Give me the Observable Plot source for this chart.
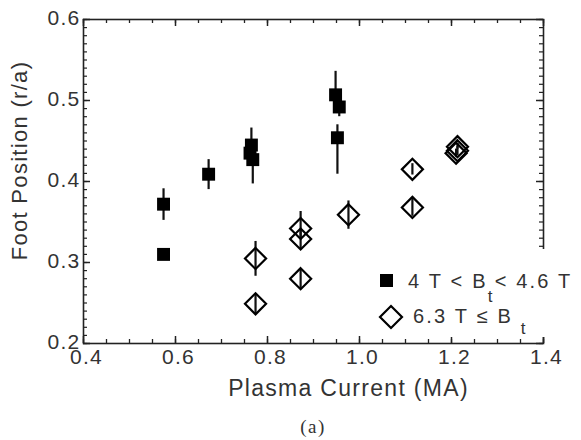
<!DOCTYPE html>
<html>
<head>
<meta charset="utf-8">
<script src="https://cdn.jsdelivr.net/npm/d3@7"></script>
<script src="https://cdn.jsdelivr.net/npm/@observablehq/plot@0.6"></script>
<style>
  body { margin: 0; background: #fff; }
  #wrap { position: relative; width: 581px; height: 440px; font-family: "Liberation Sans", Arial, sans-serif; }
  #legend { position: absolute; left: 372px; top: 249px; }
  #caption { position: absolute; left: 263px; width: 100px; top: 416px; text-align: center;
    font-family: "Liberation Serif", "Times New Roman", serif; font-size: 19px; letter-spacing: 1.5px; color: #333; }
</style>
</head>
<body>
<div id="wrap">
  <div id="chart"></div>
  <svg id="legend" width="209" height="88" style="font-family: 'Liberation Sans', Arial, sans-serif;">
    <rect x="0" y="0" width="209" height="88" fill="#fff"></rect>
    <rect x="8" y="25" width="13" height="13" fill="#000"></rect>
    <text x="36" y="39" font-size="20" fill="#333" style="letter-spacing:2.2px">4 T &lt; B<tspan font-size="17" dy="14">t</tspan><tspan dy="-14">&lt; 4.6 T</tspan></text>
    <path d="M19,57 L30,68 L19,79 L8,68 Z" fill="none" stroke="#000" stroke-width="2.2"></path>
    <text x="41" y="74" font-size="20" fill="#333" style="letter-spacing:2.2px">6.3 T ≤ B <tspan font-size="17" dy="11">t</tspan></text>
  </svg>
  <div id="caption">(a)</div>
</div>
<script>
// Plasma current (MA) and foot position (r/a), with error bar bounds
const sqCurrent = [0.574, 0.574, 0.672, 0.765, 0.762, 0.768, 0.948, 0.956, 0.952];
const sqFoot    = [0.372, 0.310, 0.409, 0.445, 0.435, 0.427, 0.507, 0.492, 0.454];
const sqLo      = [0.352, 0.305, 0.390, 0.425, 0.425, 0.397, 0.490, 0.480, 0.409];
const sqHi      = [0.391, 0.316, 0.427, 0.466, 0.445, 0.440, 0.536, 0.500, 0.470];

const dmCurrent = [0.774, 0.774, 0.872, 0.872, 0.872, 0.976, 1.115, 1.115, 1.213, 1.213, 1.210];
const dmFoot    = [0.305, 0.249, 0.342, 0.329, 0.280, 0.359, 0.415, 0.368, 0.443, 0.438, 0.435];
const dmLo      = [0.283, 0.236, 0.330, 0.317, 0.268, 0.341, 0.408, 0.357, 0.440, 0.432, 0.430];
const dmHi      = [0.326, 0.260, 0.363, 0.340, 0.292, 0.376, 0.422, 0.379, 0.447, 0.443, 0.440];

const xTickLabels = [0.4, 0.6, 0.8, 1.0, 1.2, 1.4];
const yTickLabels = [0.2, 0.3, 0.4, 0.5, 0.6];
const xMinor = d3.range(0, 21).map(i => 0.4 + i * 0.05);
const yMinor = d3.range(0, 41).map(i => 0.2 + i * 0.01);

const squares = sqCurrent.map((c, i) => ({current: c, foot: sqFoot[i], lo: sqLo[i], hi: sqHi[i]}));
const diamonds = dmCurrent.map((c, i) => ({current: c, foot: dmFoot[i], lo: dmLo[i], hi: dmHi[i]}));

const W = 581, H = 440, mL = 83, mR = 38, mT = 19, mB = 97;
const fw = W - mL - mR, fh = H - mT - mB;
const ink = "#222", txt = "#333";

const chart = Plot.plot({
  width: W, height: H,
  marginLeft: mL, marginRight: mR, marginTop: mT, marginBottom: mB,
  style: {fontFamily: "'Liberation Sans', Arial, sans-serif", color: txt, background: "#fff", letterSpacing: "1.3px"},
  x: {domain: [0.4, 1.4]},
  y: {domain: [0.2, 0.6]},
  marks: [
    // inward minor/major ticks
    Plot.ruleX(xMinor, {x: d => d, insetTop: fh - 4, stroke: ink, strokeWidth: 1.3}),
    Plot.ruleX(xMinor, {x: d => d, insetBottom: fh - 4, stroke: ink, strokeWidth: 1.3}),
    Plot.ruleX(xTickLabels, {x: d => d, insetTop: fh - 7, stroke: ink, strokeWidth: 1.5}),
    Plot.ruleX(xTickLabels, {x: d => d, insetBottom: fh - 7, stroke: ink, strokeWidth: 1.5}),
    Plot.ruleY(yMinor, {y: d => d, insetRight: fw - 4, stroke: ink, strokeWidth: 1.2}),
    Plot.ruleY(yMinor, {y: d => d, insetLeft: fw - 4, stroke: ink, strokeWidth: 1.2}),
    Plot.ruleY(yTickLabels, {y: d => d, insetRight: fw - 7, stroke: ink, strokeWidth: 1.5}),
    Plot.ruleY(yTickLabels, {y: d => d, insetLeft: fw - 7, stroke: ink, strokeWidth: 1.5}),
    Plot.frame({stroke: ink, strokeWidth: 1.6}),
    Plot.axisX(xTickLabels, {tickSize: 0, tickPadding: 6, fontSize: 21, tickFormat: d => d.toFixed(1), label: null, fill: txt, dx: 3}),
    Plot.axisY(yTickLabels, {tickSize: 0, tickPadding: 3, fontSize: 21, tickFormat: d => d.toFixed(1), label: null, fill: txt, dy: -1.5}),
    Plot.text(["Plasma Current (MA)"], {frameAnchor: "bottom", textAnchor: "middle", lineAnchor: "middle", dx: 35, dy: 45, fontSize: 23, fill: txt}),
    Plot.text(["Foot Position (r/a)"], {frameAnchor: "left", textAnchor: "middle", lineAnchor: "middle", rotate: -90, dx: -64, dy: -21, fontSize: 22, fill: txt}),
    // error bars
    Plot.ruleX(squares, {x: "current", y1: "lo", y2: "hi", stroke: "#111", strokeWidth: 2.2}),
    Plot.ruleX(diamonds, {x: "current", y1: "lo", y2: "hi", stroke: "#111", strokeWidth: 2.2}),
    // points
    Plot.dot(squares, {x: "current", y: "foot", symbol: "square", r: 7.3, fill: "#000", stroke: "none"}),
    Plot.dot(diamonds, {x: "current", y: "foot", symbol: "diamond2", r: 9.5, fill: "none", stroke: "#000", strokeWidth: 2.2})
  ]
});
document.getElementById("chart").appendChild(chart);
</script>
</body>
</html>
